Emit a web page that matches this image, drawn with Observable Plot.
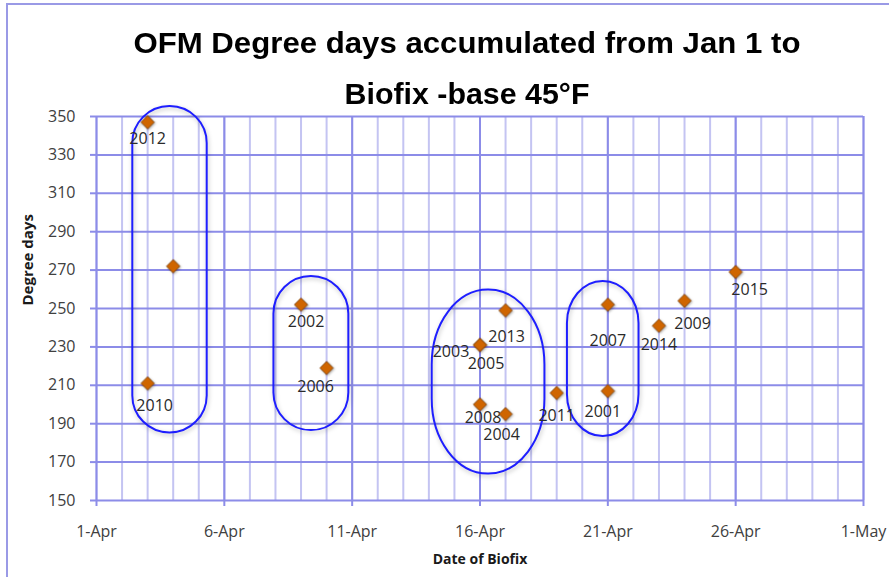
<!DOCTYPE html>
<html>
<head>
<meta charset="utf-8">
<script src="https://cdn.jsdelivr.net/npm/d3@7"></script>
<script src="https://cdn.jsdelivr.net/npm/@observablehq/plot@0.6"></script>
<style>
  body { margin: 0; background: #fff; }
  #wrap { position: relative; width: 889px; height: 577px; overflow: hidden; background: #fff; }
  #frame { position: absolute; left: 6px; top: 3px; width: 950px; height: 650px;
           border-left: 2px solid #9a9ae6; border-top: 2px solid #9a9ae6; box-sizing: border-box; }
  .tline { position: absolute; left: 0; width: 934px; text-align: center;
           font-family: "Liberation Sans", Arial, sans-serif; font-weight: bold;
           font-size: 30px; line-height: 30px; color: #000; white-space: nowrap; }
  .tline span { display: inline-block; transform-origin: 50% 50%; }
  #chart { position: absolute; left: 0; top: 100px; }
</style>
</head>
<body>
<div id="wrap">
  <div id="frame"></div>
  <div class="tline" style="top:28px"><span id="t1">OFM Degree days accumulated from Jan 1 to</span></div>
  <div class="tline" style="top:79px"><span id="t2">Biofix -base 45°F</span></div>
  <div id="chart"></div>
</div>
<script>
// ---- data ----
const years      = ["2001","2002","2003","2004","2005","2006","2007","2008","2009","2010","2011","2012","2013","2014","2015",""];
const biofixDay  = [21, 9, 16, 17, 16, 10, 21, 16, 24, 3, 19, 3, 17, 23, 26, 4];   // day of April (31 = 1-May)
const degreeDays = [207, 252, 231, 195, 231, 219, 252, 200, 254, 211, 206, 347, 249, 241, 269, 272];

const xTicks      = [1, 6, 11, 16, 21, 26, 31];
const xTickLabels = ["1-Apr", "6-Apr", "11-Apr", "16-Apr", "21-Apr", "26-Apr", "1-May"];
const yTicks      = [150, 170, 190, 210, 230, 250, 270, 290, 310, 330, 350];

// circled groups (annotation outlines), in data units
const groupX1 = [2.42, 7.94, 14.13, 19.42];
const groupX2 = [5.33, 10.87, 18.54, 22.22];
const groupY1 = [185.2, 186.4, 163.8, 183.3];
const groupY2 = [355.2, 266.7, 259.6, 264.1];

// ---- layout / style ----
const labelOffset = {
  "2001": [-5, 21], "2002": [5, 17], "2003": [-29, 7], "2004": [-4, 21], "2005": [6, 19],
  "2006": [-11, 19], "2007": [0, 36], "2008": [3, 13], "2009": [8, 23], "2010": [7, 22],
  "2011": [0, 23], "2012": [0, 17], "2013": [1, 26], "2014": [0, 19], "2015": [14, 18]
};
const groupRadius = [[37, 37], [37.5, 37.5], [56, 75], [36, 42]];
const minorColor = "#c4c4f2", majorColor = "#8c8ce8";
const font = "'Open Sans', 'Liberation Sans', sans-serif";

const points = years.map((y, i) => ({year: y, day: biofixDay[i], dd: degreeDays[i]}));
const groups = groupX1.map((x1, i) => ({x1, x2: groupX2[i], y1: groupY1[i], y2: groupY2[i]}));
const allDays = d3.range(xTicks[0], xTicks[xTicks.length - 1] + 1);

const labelMarks = points.filter(p => p.year !== "").map(p =>
  Plot.text([p], {x: "day", y: "dd", text: "year", dx: labelOffset[p.year][0], dy: labelOffset[p.year][1],
    fill: "#2a2a2a", fontSize: 16, textAnchor: "middle", lineAnchor: "middle"}));

const groupMarks = groups.map((g, i) =>
  Plot.rect([g], {x1: "x1", x2: "x2", y1: "y1", y2: "y2", rx: groupRadius[i][0], ry: groupRadius[i][1],
    fill: "none", stroke: "#1e1eff", strokeWidth: 2}));

const chart = Plot.plot({
  width: 889, height: 477,
  marginTop: 16, marginBottom: 77, marginLeft: 96, marginRight: 26,
  style: {fontFamily: font, fontSize: "16px", background: "transparent"},
  x: {type: "linear", domain: [1, 31]},
  y: {domain: [150, 350]},
  marks: [
    Plot.ruleX(allDays, {stroke: minorColor, strokeWidth: 2}),
    Plot.ruleX(xTicks, {stroke: majorColor, strokeWidth: 2}),
    Plot.ruleY(yTicks, {stroke: majorColor, strokeWidth: 2}),
    Plot.axisX({ticks: xTicks, tickFormat: d => xTickLabels[xTicks.indexOf(d)], tickSize: 6, tickPadding: 19,
      stroke: majorColor, strokeWidth: 2, fill: "#404040", fontSize: 16, label: null}),
    Plot.axisY({ticks: yTicks, tickSize: 6, tickPadding: 15, stroke: majorColor, strokeWidth: 2,
      fill: "#404040", fontSize: 16, label: null}),
    Plot.text(["Degree days"], {frameAnchor: "left", dx: -68, dy: -3, rotate: -90, fontWeight: "bold",
      fontSize: 15, fill: "#1a1a1a"}),
    Plot.text(["Date of Biofix"], {frameAnchor: "bottom", dy: 63, fontWeight: "bold",
      fontSize: 14, fill: "#1a1a1a"}),
    ...groupMarks,
    ...labelMarks,
    Plot.dot(points, {x: "day", y: "dd", symbol: "diamond2", r: 6, fill: "#cf6500",
      stroke: "#7a3c00", strokeWidth: 0.8})
  ]
});
document.getElementById("chart").appendChild(chart);

// soft shadows like the spreadsheet original
chart.querySelectorAll('g[aria-label="rect"]').forEach(g => g.style.filter = "drop-shadow(1px 2px 2px rgba(0,0,0,0.25))");
chart.querySelectorAll('g[aria-label="dot"]').forEach(g => g.style.filter = "drop-shadow(1px 1px 1px rgba(0,0,0,0.3))");

// fit title lines to the original widths
function fit(id, target) {
  const el = document.getElementById(id);
  const w = el.getBoundingClientRect().width;
  el.style.transform = `scaleX(${target / w})`;
}
fit("t1", 667); fit("t2", 245);
</script>
</body>
</html>
